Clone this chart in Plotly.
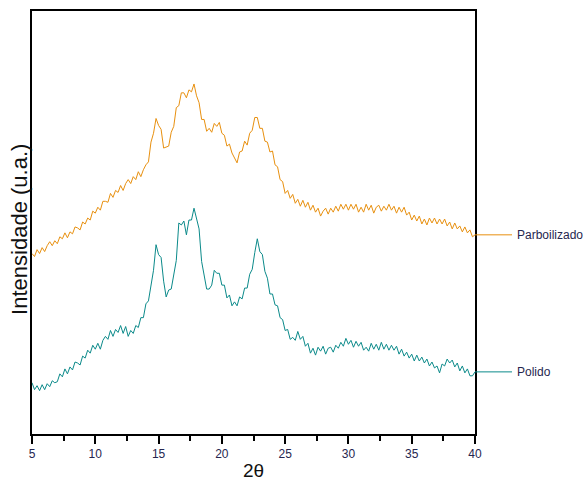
import numpy as np
import plotly.graph_objects as go

# 2θ scan positions (step 0.2°)
two_theta = np.round(np.arange(5.0, 40.01, 0.2), 1)

# Intensities (arbitrary units), parboiled rice
parboilizado = [
    183, 180, 187, 183, 189, 185, 191, 195, 191, 196,
    193, 200, 198, 204, 199, 205, 203, 210, 209, 207,
    215, 213, 219, 217, 226, 224, 230, 227, 236, 236,
    235, 244, 240, 247, 245, 252, 247, 254, 258, 254,
    261, 258, 266, 261, 268, 273, 276, 296, 305, 320,
    313, 309, 290, 291, 292, 306, 312, 331, 333, 346,
    346, 341, 349, 347, 355, 343, 336, 319, 319, 307,
    310, 306, 315, 312, 316, 305, 303, 292, 294, 285,
    280, 275, 286, 287, 297, 293, 305, 308, 321, 321,
    310, 310, 297, 296, 286, 287, 273, 271, 258, 256,
    244, 247, 239, 243, 234, 238, 231, 237, 230, 235,
    227, 232, 225, 229, 221, 226, 229, 223, 229, 225,
    231, 226, 233, 228, 233, 227, 233, 228, 233, 225,
    230, 225, 233, 227, 232, 224, 230, 232, 226, 231,
    227, 233, 227, 231, 224, 230, 225, 230, 222, 225,
    217, 222, 216, 221, 213, 218, 212, 219, 214, 219,
    213, 218, 213, 218, 211, 215, 208, 214, 208, 211,
    205, 210, 204, 207, 200, 202,
]

# Intensities (arbitrary units), polished rice
polido = [
    52, 45, 49, 44, 50, 45, 51, 48, 54, 52,
    53, 61, 58, 66, 61, 68, 65, 73, 72, 70,
    79, 77, 85, 82, 90, 86, 92, 86, 95, 99,
    96, 105, 99, 106, 103, 110, 102, 109, 99, 105,
    102, 110, 108, 118, 118, 132, 135, 150, 166, 192,
    182, 179, 155, 139, 146, 147, 163, 176, 214, 212,
    216, 202, 217, 217, 229, 217, 208, 175, 161, 147,
    147, 151, 166, 163, 163, 151, 151, 138, 141, 130,
    134, 130, 139, 137, 148, 148, 162, 167, 184, 198,
    185, 182, 165, 158, 142, 142, 131, 130, 118, 116,
    105, 106, 96, 98, 95, 104, 96, 99, 89, 92,
    82, 87, 80, 88, 84, 89, 81, 87, 88, 83,
    90, 87, 93, 89, 97, 91, 95, 88, 94, 89,
    93, 85, 88, 84, 92, 86, 91, 85, 93, 86,
    91, 85, 90, 85, 89, 81, 86, 79, 83, 77,
    81, 74, 80, 74, 78, 72, 76, 69, 73, 67,
    69, 62, 71, 69, 76, 72, 75, 68, 72, 64,
    69, 62, 66, 59, 59, 63,
]

series_names = ["Parboilizado", "Polido"]
series_colors = ["#E8900F", "#0B8A8A"]
x_ticks = [5, 10, 15, 20, 25, 30, 35, 40]

W, H = 584, 487
ML, MR, MT, MB = 32, 109, 9, 49
plot_w = W - ML - MR

sans = "Liberation Sans, Arial, sans-serif"
label_color = "#26264F"

fig = go.Figure()
for name, ys, col in zip(series_names, [parboilizado, polido], series_colors):
    fig.add_trace(go.Scatter(
        x=two_theta, y=ys, mode="lines", name=name,
        line=dict(color=col, width=1), showlegend=False,
    ))
    # leader line and label just outside the right edge of the frame
    fig.add_shape(type="line", xref="paper", yref="y",
                  x0=1.0, x1=1.0 + 37 / plot_w, y0=ys[-1], y1=ys[-1],
                  line=dict(color=col, width=1))
    fig.add_annotation(xref="paper", yref="y", x=1.0 + 40 / plot_w, y=ys[-1],
                       text=name, showarrow=False, xanchor="left", yanchor="middle",
                       font=dict(family=sans, size=12, color=label_color))

fig.add_annotation(xref="paper", yref="paper", x=(20 - ML) / plot_w, y=(438 - 231) / (H - MT - MB),
                   text="Intensidade (u.a.)", textangle=-90, showarrow=False,
                   xanchor="center", yanchor="middle",
                   font=dict(family=sans, size=22, color="#111111"))

fig.update_layout(
    width=W, height=H,
    margin=dict(l=ML, r=MR, t=MT, b=MB),
    paper_bgcolor="white", plot_bgcolor="white",
    xaxis=dict(
        range=[5, 40], tickvals=x_ticks, ticks="outside", ticklen=8, tickwidth=1.5,
        tickcolor="black", showline=True, linecolor="black", linewidth=1.5, mirror=True,
        showgrid=False, zeroline=False,
        tickfont=dict(family=sans, size=12, color=label_color),
        minor=dict(dtick=2.5, ticks="outside", ticklen=5, tickwidth=1.5, tickcolor="black"),
        title=dict(text="2θ", font=dict(family=sans, size=19, color="#111111"), standoff=4),
    ),
    yaxis=dict(
        range=[0, 429], showticklabels=False, ticks="", showline=True, linecolor="black",
        linewidth=1.5, mirror=True, showgrid=False, zeroline=False,
    ),
)

fig.write_html("out.html")
